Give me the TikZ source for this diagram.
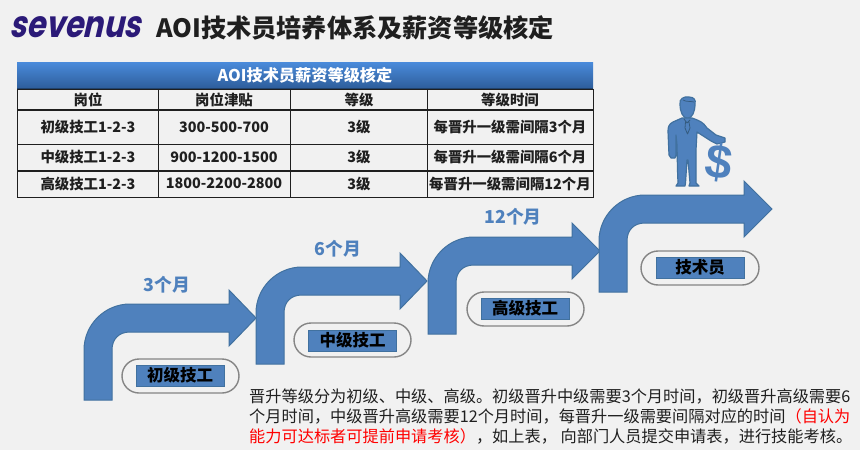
\documentclass[tikz,border=0pt]{standalone}
\usepackage{fontspec}
\setmainfont{Noto Sans CJK SC}
\newfontfamily\logofont[FakeSlant=0.28]{Poppins}
\newfontfamily\dollarfont{Liberation Sans}
\definecolor{pagebg}{HTML}{F1F1F1}
\definecolor{stepblue}{HTML}{4F81BD}
\definecolor{stepedge}{HTML}{41719F}
\definecolor{inkdark}{HTML}{1F1F1F}
\definecolor{logopurple}{HTML}{2B1A78}
\definecolor{barTop}{HTML}{4A8BDB}
\definecolor{barBot}{HTML}{2E5E9C}
\tikzset{
  x=1pt,y=-1pt,
  arrowshape/.style={fill=stepblue,draw=stepedge,line width=1pt,line join=miter},
  capsule/.style={draw=black!48,line width=1.4pt,rounded corners=17pt},
  levelbox/.style={fill=stepblue,draw=stepedge,line width=1pt,minimum width=88pt,minimum height=21pt,inner sep=0pt,font=\fontsize{16.5}{18}\selectfont\bfseries,text=black},
  monthlabel/.style={font=\fontsize{17.8}{20}\selectfont\bfseries,text=stepblue,inner sep=0pt},
  cell/.style={font=\fontsize{14.4}{16}\selectfont\bfseries,text=inkdark,inner sep=0pt},
  grid/.style={draw=inkdark,line width=1pt},
  bodyline/.style={anchor=west,inner sep=0pt,font=\fontsize{16.2}{18}\selectfont,text=inkdark},
  manline/.style={draw=stepedge,line width=1.2pt},
}
\newcommand{\stepshape}[5]{%
  \begin{scope}[shift={(#1,#2)}]
    \draw[arrowshape] (0,#3) -- (0,46) .. controls (0,20.7) and (20.7,0) .. (46,0)
      -- (#4,0) -- (#4,-14) -- (#5,14) -- (#4,42) -- (#4,28) -- (46,28)
      .. controls (35,28) and (28,35) .. (28,46) -- (28,#3) -- cycle;
  \end{scope}}
\begin{document}
\begin{tikzpicture}
\useasboundingbox (0,0) rectangle (860,450);
\fill[pagebg] (0,0) rectangle (860,450);
% header
\node[inner sep=0pt,anchor=center,xscale=.82,transform shape,text=logopurple,font=\logofont\fontsize{37}{40}\selectfont\bfseries] (logo) at (75,27) {sevenus};
\node[inner sep=0pt,anchor=west,text=inkdark,font=\fontsize{25.2}{28}\selectfont\bfseries] (title) at (156,28) {AOI技术员培养体系及薪资等级核定};
% table
\shade[top color=barTop,bottom color=barBot] (17,62) rectangle (593,88);
\draw[barBot!70!black,line width=.6pt] (17,88) -- (593,88);
\node[cell,text=white,font=\fontsize{16.2}{18}\selectfont\bfseries] (tabletitle) at (305,75) {AOI技术员薪资等级核定};
\draw[grid] (17,89) rectangle (593,197);
\draw[grid,line width=1.2pt] (17,110) -- (593,110);
\draw[grid] (17,144) -- (593,144);
\draw[grid,line width=1.2pt] (17,171) -- (593,171);
\draw[grid] (158.5,89) -- (158.5,197) (290.5,89) -- (290.5,197) (427.5,89) -- (427.5,197);
\node[cell] (h1) at (88,100) {岗位};
\node[cell] (h2) at (224,100) {岗位津贴};
\node[cell] (h3) at (359,100) {等级};
\node[cell] (h4) at (510,100) {等级时间};
\node[cell] (a1) at (88,127) {初级技工1-2-3};
\node[cell] (a2) at (224,127) {300-500-700};
\node[cell] (a3) at (359,127) {3级};
\node[cell] (a4) at (510,127) {每晋升一级需间隔3个月};
\node[cell] (b1) at (88,157) {中级技工1-2-3};
\node[cell] (b2) at (224,157) {900-1200-1500};
\node[cell] (b3) at (359,157) {3级};
\node[cell] (b4) at (510,157) {每晋升一级需间隔6个月};
\node[cell] (c1) at (88,183.5) {高级技工1-2-3};
\node[cell] (c2) at (224,183.5) {1800-2200-2800};
\node[cell] (c3) at (359,183.5) {3级};
\node[cell] (c4) at (510,183.5) {每晋升一级需间隔12个月};
% stairs of arrows
\stepshape{84}{304}{96}{145}{172}
\stepshape{256}{267}{97}{144}{171}
\stepshape{428}{237}{97}{144}{172}
\stepshape{599}{195}{97}{145}{173}
% month labels
\node[monthlabel] (m1) at (167,285) {3个月};
\node[monthlabel] (m2) at (338,249) {6个月};
\node[monthlabel] (m3) at (513,217) {12个月};
% level capsules
\draw[capsule] (122,359) rectangle (239,393);
\node[levelbox] (l1) at (180,375.5) {初级技工};
\draw[capsule] (294,323) rectangle (411,357);
\node[levelbox] (l2) at (352.5,340.5) {中级技工};
\draw[capsule] (467,292) rectangle (584,326);
\node[levelbox] (l3) at (525,308.5) {高级技工};
\draw[capsule] (641,251) rectangle (759,285);
\node[levelbox] (l4) at (700,267.5) {技术员};
% man
\fill[stepblue,manline] (680,104) .. controls (679,99) and (684,96) .. (689,97)
  .. controls (694,97) and (696,100) .. (695,104)
  .. controls (695,112) and (692,118) .. (687.5,118.5)
  .. controls (683,118) and (680,112) .. (680,104) -- cycle;
\draw[stepedge!80!black,line width=.7pt] (683,100) .. controls (686,102) and (690,101) .. (694,102);
\fill[stepblue,manline,line join=round] (682,118) -- (673,122) .. controls (669,124) and (668,127) .. (668,131)
  -- (669,155) -- (671,158) -- (675,158) -- (676,155) -- (676,135) -- (677,145) -- (677.5,170) -- (678,183)
  -- (676,186) -- (685,186) -- (685.5,183) -- (687,160) -- (688,160) -- (690,183)
  -- (689,186) -- (699,186) -- (696,183) -- (696,150) -- (697,132)
  -- (711,141) -- (717,144) -- (725,142) -- (725,138) -- (716,135) -- (707,128)
  .. controls (703,122) and (700,121) .. (692,118) -- cycle;
\draw[stepedge!80!black,line width=.8pt,line join=round] (684,119) -- (687,123) -- (690,120) (685.5,122) -- (685,128) -- (687.5,134) -- (690,128) -- (689,122);
\node[inner sep=0pt,rotate=-8,text=stepblue,font=\dollarfont\fontsize{48}{48}\selectfont\bfseries] (dollar) at (719,162.5) {\$};
% body text
\node[bodyline] (t1) at (249,396.5) {晋升等级分为初级、中级、高级。初级晋升中级需要3个月时间，初级晋升高级需要6};
\node[bodyline] (t2) at (249,416) {个月时间，中级晋升高级需要12个月时间，每晋升一级需要间隔对应的时间\textcolor{red}{（自认为}};
\node[bodyline] (t3) at (249,436) {\textcolor{red}{能力可达标者可提前申请考核）}，如上表， 向部门人员提交申请表，进行技能考核。};
\end{tikzpicture}
\end{document}
